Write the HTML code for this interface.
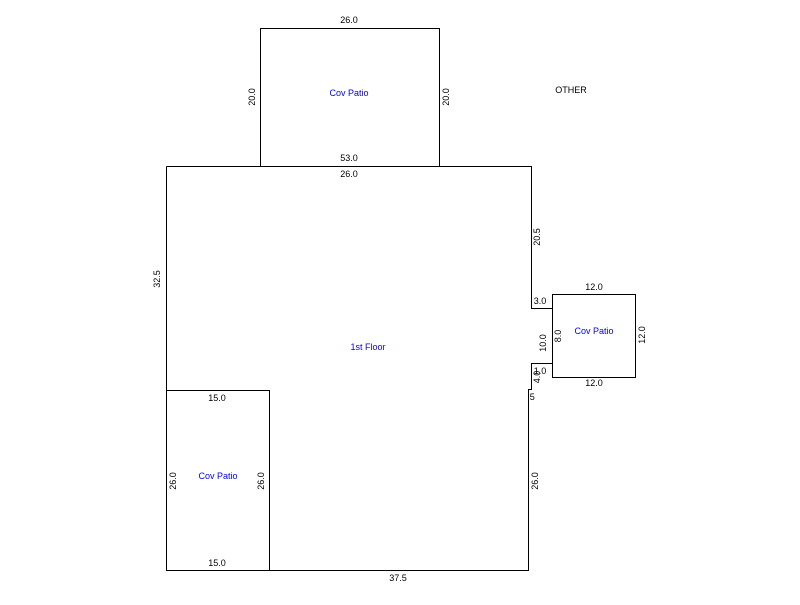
<!DOCTYPE html>
<html><head><style>
body{margin:0;background:#fff;}
</style></head><body>
<svg width="800" height="600" xmlns="http://www.w3.org/2000/svg" font-family="Liberation Sans, sans-serif" font-size="9">
<g fill="none" stroke="#000" stroke-width="1">
<rect x="260.5" y="28.5" width="179" height="138"/>
<polyline points="166.5,166.5 531.5,166.5 531.5,308.5 552.5,308.5 552.5,363.5 531.5,363.5 531.5,389.5 528.5,389.5 528.5,570.5 166.5,570.5 166.5,166.5"/>
<rect x="552.5" y="294.5" width="83" height="83"/>
<rect x="166.5" y="390.5" width="103" height="180"/>
</g>
<g fill="#000" text-anchor="middle">
<text x="349" y="23">26.0</text>
<text x="349" y="161">53.0</text>
<text x="349" y="177">26.0</text>
<text x="571" y="93">OTHER</text>
<text x="594" y="290">12.0</text>
<text x="594" y="386">12.0</text>
<text x="540" y="304">3.0</text>
<text x="540" y="374">1.0</text>
<text x="531" y="400">.5</text>
<text x="217" y="401">15.0</text>
<text x="217" y="566">15.0</text>
<text x="398" y="581">37.5</text>
<text transform="translate(255,97) rotate(-90)">20.0</text>
<text transform="translate(449,97) rotate(-90)">20.0</text>
<text transform="translate(540,237) rotate(-90)">20.5</text>
<text transform="translate(160,279) rotate(-90)">32.5</text>
<text transform="translate(546,343) rotate(-90)">10.0</text>
<text transform="translate(561,336) rotate(-90)">8.0</text>
<text transform="translate(645,335) rotate(-90)">12.0</text>
<text transform="translate(540,377) rotate(-90)">4.0</text>
<text transform="translate(176,481) rotate(-90)">26.0</text>
<text transform="translate(264,481) rotate(-90)">26.0</text>
<text transform="translate(538,481) rotate(-90)">26.0</text>
</g>
<g fill="#0000ff" text-anchor="middle">
<text x="349" y="96">Cov Patio</text>
<text x="368" y="350">1st Floor</text>
<text x="594" y="334">Cov Patio</text>
<text x="218" y="479">Cov Patio</text>
</g>
</svg>
</body></html>
